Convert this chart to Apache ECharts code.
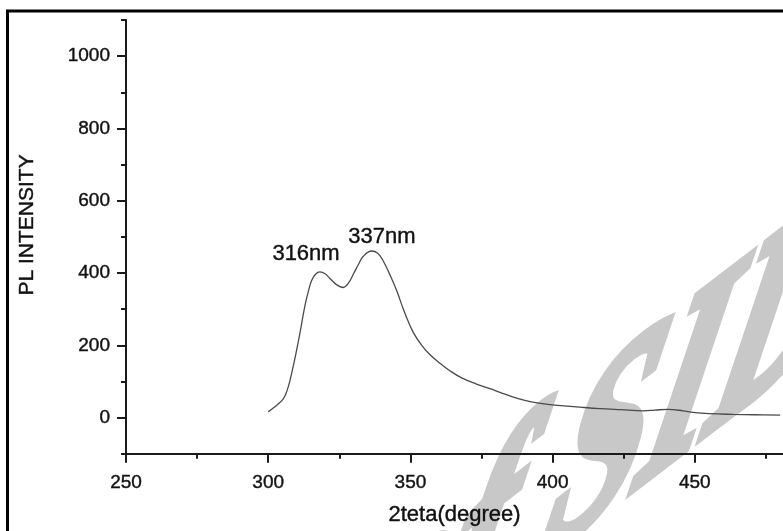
<!DOCTYPE html>
<html>
<head>
<meta charset="utf-8">
<script src="https://cdn.jsdelivr.net/npm/echarts@6/dist/echarts.min.js"></script>
<style>
  html, body { margin: 0; padding: 0; background: #fff; }
  #chart { width: 783px; height: 531px; }
</style>
</head>
<body>
<div id="chart"></div>
<script>
// spectrum
var wavelength = [300, 302, 303.5, 305.3, 306.5, 307.6, 309.4, 311.2, 312.9, 314.2, 315.3, 316.8, 318.2, 320, 321.7,
    324, 326.4, 328.2, 330, 331.8, 333.5, 336.3, 338.5, 340.4, 342.8, 345.1, 348, 351, 354, 356.9, 360.5,
    364, 368, 373.2, 378, 381.5, 387.3, 393, 399, 405, 409.6, 416.6, 424, 431.9, 436, 440.6, 445.9,
    449.4, 455, 463.5, 471, 480];
var intensity = [16, 28, 38, 52, 72, 101, 164, 236, 309, 352, 380, 398, 403, 398, 385,
    368, 360, 372, 398, 425, 447, 461, 455, 434, 395, 353, 290, 236, 200, 174, 150,
    129, 110, 93, 80, 70, 54, 43, 36, 32, 29, 25, 22, 19, 21, 23, 19,
    14.5, 11, 9, 8, 7];

// axis ticks
var xMajorTicks = [250, 300, 350, 400, 450];
var xMinorTicks = [275, 325, 375, 425, 475];
var yMajorTicks = [0, 200, 400, 600, 800, 1000];
var yMinorTicks = [-100, 100, 300, 500, 700, 900, 1100];

// peak labels
var peakNames = ['316nm', '337nm'];
var peakLabelPos = [[313.3, 452], [340, 500]];

// watermark letters and their offsets from the "S" (em)
var wmLetters = ['o', 'f', 'S', 'I', 'D'];
var wmOffsets = [-1.111, -0.694, 0, 0.472, 1.028];

var font = 'Liberation Sans, Arial, sans-serif';
var ink = '#111';

var points = wavelength.map(function (w, i) { return [w, intensity[i]]; });

// watermark: skewed grey text, matrix split into rotate * scale * rotate
function watermark() {
    var size = 104;
    var m00 = 1.7, m10 = -1.3, m01 = -0.65, m11 = 2.6;
    var E = (m00 + m11) / 2, F = (m00 - m11) / 2, G = (m10 + m01) / 2, H = (m10 - m01) / 2;
    var Q = Math.sqrt(E * E + H * H), R = Math.sqrt(F * F + G * G);
    var a1 = Math.atan2(G, F), a2 = Math.atan2(H, E);
    var beta = (a2 + a1) / 2, gamma = (a2 - a1) / 2;
    return {
        type: 'group',
        x: 602, y: 456,
        rotation: -beta,
        scaleX: Q + R,
        scaleY: Q - R,
        z: -10,
        silent: true,
        children: [{
            type: 'group',
            rotation: -gamma,
            children: wmLetters.map(function (ch, i) {
                return {
                    type: 'text',
                    x: wmOffsets[i] * size,
                    y: 0,
                    style: {
                        text: ch,
                        fill: '#c8c8c8',
                        stroke: '#c8c8c8',
                        lineWidth: 5,
                        font: 'italic bold ' + size + 'px "Liberation Serif", serif',
                        align: 'center',
                        verticalAlign: 'middle'
                    }
                };
            })
        }]
    };
}

function plain(v) { return String(v); }

var xBase = {
    type: 'value',
    min: 250,
    max: 481,
    splitLine: { show: false }
};
var yBase = {
    type: 'value',
    min: -100,
    max: 1100,
    splitLine: { show: false }
};
var tickStyle = { color: '#1a1a1a', width: 2 };
var labelStyle = {
    fontFamily: font, fontSize: 19, color: ink,
    textBorderColor: ink, textBorderWidth: 0.4, formatter: plain
};

var chart = echarts.init(document.getElementById('chart'));

chart.setOption({
    backgroundColor: '#fff',
    animation: false,
    grid: { left: 126, right: 0, top: 20, bottom: 66, containLabel: false },
    graphic: [
        watermark(),
        {
            type: 'rect',
            shape: { x: 7.5, y: 11, width: 1000, height: 1000 },
            style: { fill: 'none', stroke: '#000', lineWidth: 3 },
            z: 100,
            silent: true
        }
    ],
    xAxis: [
        Object.assign({}, xBase, {
            name: '2teta(degree)',
            nameLocation: 'middle',
            nameGap: 50,
            nameTextStyle: { fontFamily: font, fontSize: 22, color: ink, textBorderColor: ink, textBorderWidth: 0.4 },
            axisLine: { onZero: false, lineStyle: tickStyle },
            axisTick: { customValues: xMajorTicks, length: 9, lineStyle: tickStyle },
            axisLabel: Object.assign({ customValues: xMajorTicks, margin: 19 }, labelStyle)
        }),
        Object.assign({}, xBase, {
            position: 'bottom',
            axisLine: { show: false, onZero: false },
            axisTick: { customValues: xMinorTicks, length: 5, lineStyle: tickStyle },
            axisLabel: { show: false }
        })
    ],
    yAxis: [
        Object.assign({}, yBase, {
            name: 'PL INTENSITY',
            nameLocation: 'middle',
            nameGap: 88,
            nameTextStyle: {
                fontFamily: font, fontSize: 21, color: ink, padding: [0, 0, 0, 24],
                textBorderColor: ink, textBorderWidth: 0.4
            },
            axisLine: { show: true, onZero: false, lineStyle: tickStyle },
            axisTick: { show: true, customValues: yMajorTicks, length: 9, lineStyle: tickStyle },
            axisLabel: Object.assign({ customValues: yMajorTicks, margin: 16 }, labelStyle)
        }),
        Object.assign({}, yBase, {
            position: 'left',
            axisLine: { show: false, onZero: false },
            axisTick: { show: true, customValues: yMinorTicks, length: 5, lineStyle: tickStyle },
            axisLabel: { show: false }
        })
    ],
    series: [{
        type: 'line',
        data: points,
        smooth: 0.4,
        showSymbol: false,
        lineStyle: { color: '#4a4a4a', width: 1.3 },
        markPoint: {
            symbol: 'circle',
            symbolSize: 1,
            itemStyle: { color: 'rgba(0,0,0,0)' },
            label: {
                show: true,
                position: 'inside',
                fontFamily: font,
                fontSize: 22,
                color: ink,
                textBorderColor: ink,
                textBorderWidth: 0.4,
                formatter: function (p) { return p.name; }
            },
            data: peakNames.map(function (n, i) {
                return { name: n, coord: peakLabelPos[i] };
            })
        }
    }]
});
</script>
</body>
</html>
